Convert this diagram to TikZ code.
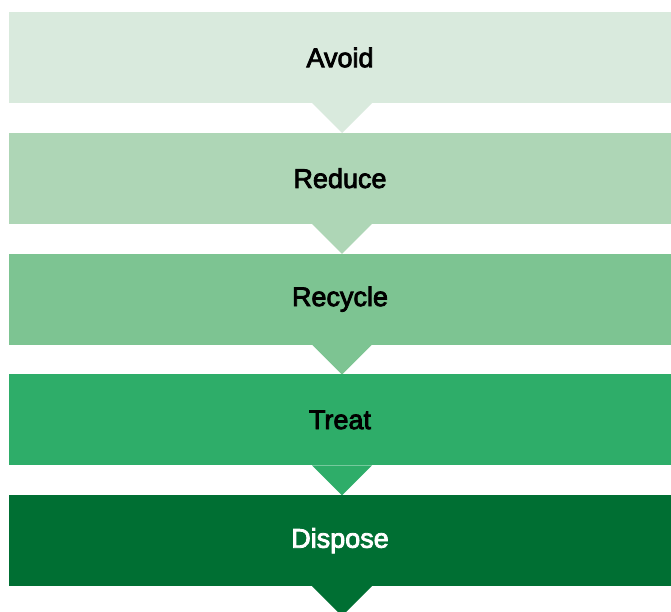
\documentclass[tikz,border=0pt]{standalone}
\usepackage{fontspec}
\setmainfont{Liberation Sans}[FakeBold=3]
\definecolor{cA}{HTML}{D9EADD}
\definecolor{cB}{HTML}{AED6B6}
\definecolor{cC}{HTML}{7DC492}
\definecolor{cD}{HTML}{2EAD69}
\definecolor{cE}{HTML}{006F33}
\tikzset{
  stage/.style={draw=none, minimum width=662pt, minimum height=91pt, inner sep=0pt,
    font=\fontsize{27}{30}\selectfont, anchor=center},
}
\begin{document}
\begin{tikzpicture}[x=1pt,y=-1pt]
\useasboundingbox[fill=white] (0,0) rectangle (671,611);
\foreach \i/\c/\t/\tc in {0/cA/Avoid/black,1/cB/Reduce/black,2/cC/Recycle/black,3/cD/Treat/black,4/cE/Dispose/white}{
  \pgfmathsetmacro{\yc}{57.5+120.8*\i}
  \fill[\c] (312,\yc+45.5) -- (372,\yc+45.5) -- (342,\yc+75.5) -- cycle;
  \node[stage, fill=\c, text=\tc] (s\i) at (340,\yc) {\t};
}
\end{tikzpicture}
\end{document}
